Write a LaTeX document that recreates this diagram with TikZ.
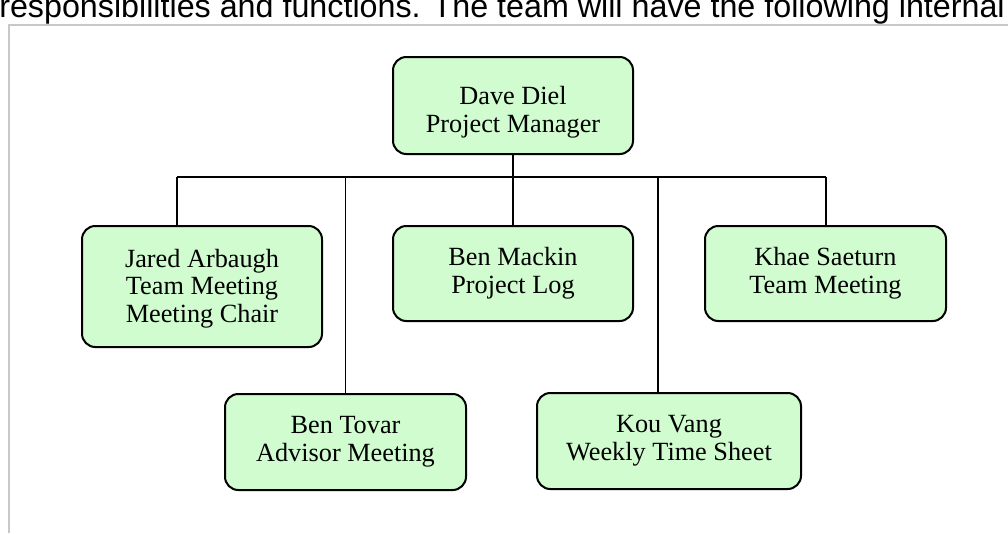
\documentclass[tikz,border=0pt]{standalone}
\usepackage{fontspec}
\setmainfont{Liberation Serif}
\newfontfamily\arialfont{Liberation Sans}
\definecolor{boxgreen}{RGB}{208,252,208}
\definecolor{framegray}{RGB}{200,200,200}
\begin{document}
\begin{tikzpicture}[x=0.75pt,y=-0.75pt,
  box/.style={draw=black, line width=1.5pt, fill=boxgreen, rounded corners=10pt,
    inner sep=0pt, anchor=center},
  txt/.style={align=center, font=\fontsize{19.7pt}{20.8pt}\selectfont, inner sep=0pt},
  conn/.style={draw=black, line width=1.4pt},
  frame/.style={draw=framegray, line width=1.6pt}]
\useasboundingbox (0,0) rectangle (1008,533);
% cut-off text line at the top and the page frame
\node[anchor=base west, inner sep=0pt, font=\arialfont\fontsize{24.2pt}{27pt}\selectfont] (topline) at (-1,17)
  {responsibilities and functions. The team will have the following internal};
\draw[frame] (9,533) -- (9,25) -- (1008,25);
% boxes
\node[box, minimum width=240*0.75pt, minimum height=97*0.75pt] (dave) at (513,105.5) {};
\node[txt] (davetext) at (513,112.5) {Dave Diel\\Project Manager};
\node[box, minimum width=240*0.75pt, minimum height=121*0.75pt] (jared) at (202,286.5) {};
\begin{scope}
  \clip (82,220) rectangle (322,327.5);
  \node[txt] (jaredtext) at (202,288.5) {Jared Arbaugh\\Team Meeting\\Meeting Chair};
\end{scope}
\node[box, minimum width=240*0.75pt, minimum height=95*0.75pt, txt] (mackin) at (513,273.5) {Ben Mackin\\Project Log};
\node[box, minimum width=241*0.75pt, minimum height=95*0.75pt, txt] (khae) at (825.5,273.5) {Khae Saeturn\\Team Meeting};
\node[box, minimum width=241*0.75pt, minimum height=96*0.75pt, txt] (tovar) at (345.5,442) {Ben Tovar\\Advisor Meeting};
\node[box, minimum width=264*0.75pt, minimum height=96*0.75pt, txt] (kou) at (669,441) {Kou Vang\\Weekly Time Sheet};
% connectors
\coordinate (busL) at (177,177);
\coordinate (busR) at (826,177);
\coordinate (kouJ) at (658,177);
\draw[conn] (dave.south) -- (dave.south |- busL);
\draw[conn, line width=1.8pt] (busL) -- (busR);
\draw[conn] (busL) -- (busL |- jared.north);
\draw[conn] (tovar.north |- busL) -- (tovar.north);
\draw[conn] (mackin.north |- busL) -- (mackin.north);
\draw[conn] (kouJ) -- (kouJ |- kou.north);
\draw[conn] (busR) -- (busR |- khae.north);
\end{tikzpicture}
\end{document}
